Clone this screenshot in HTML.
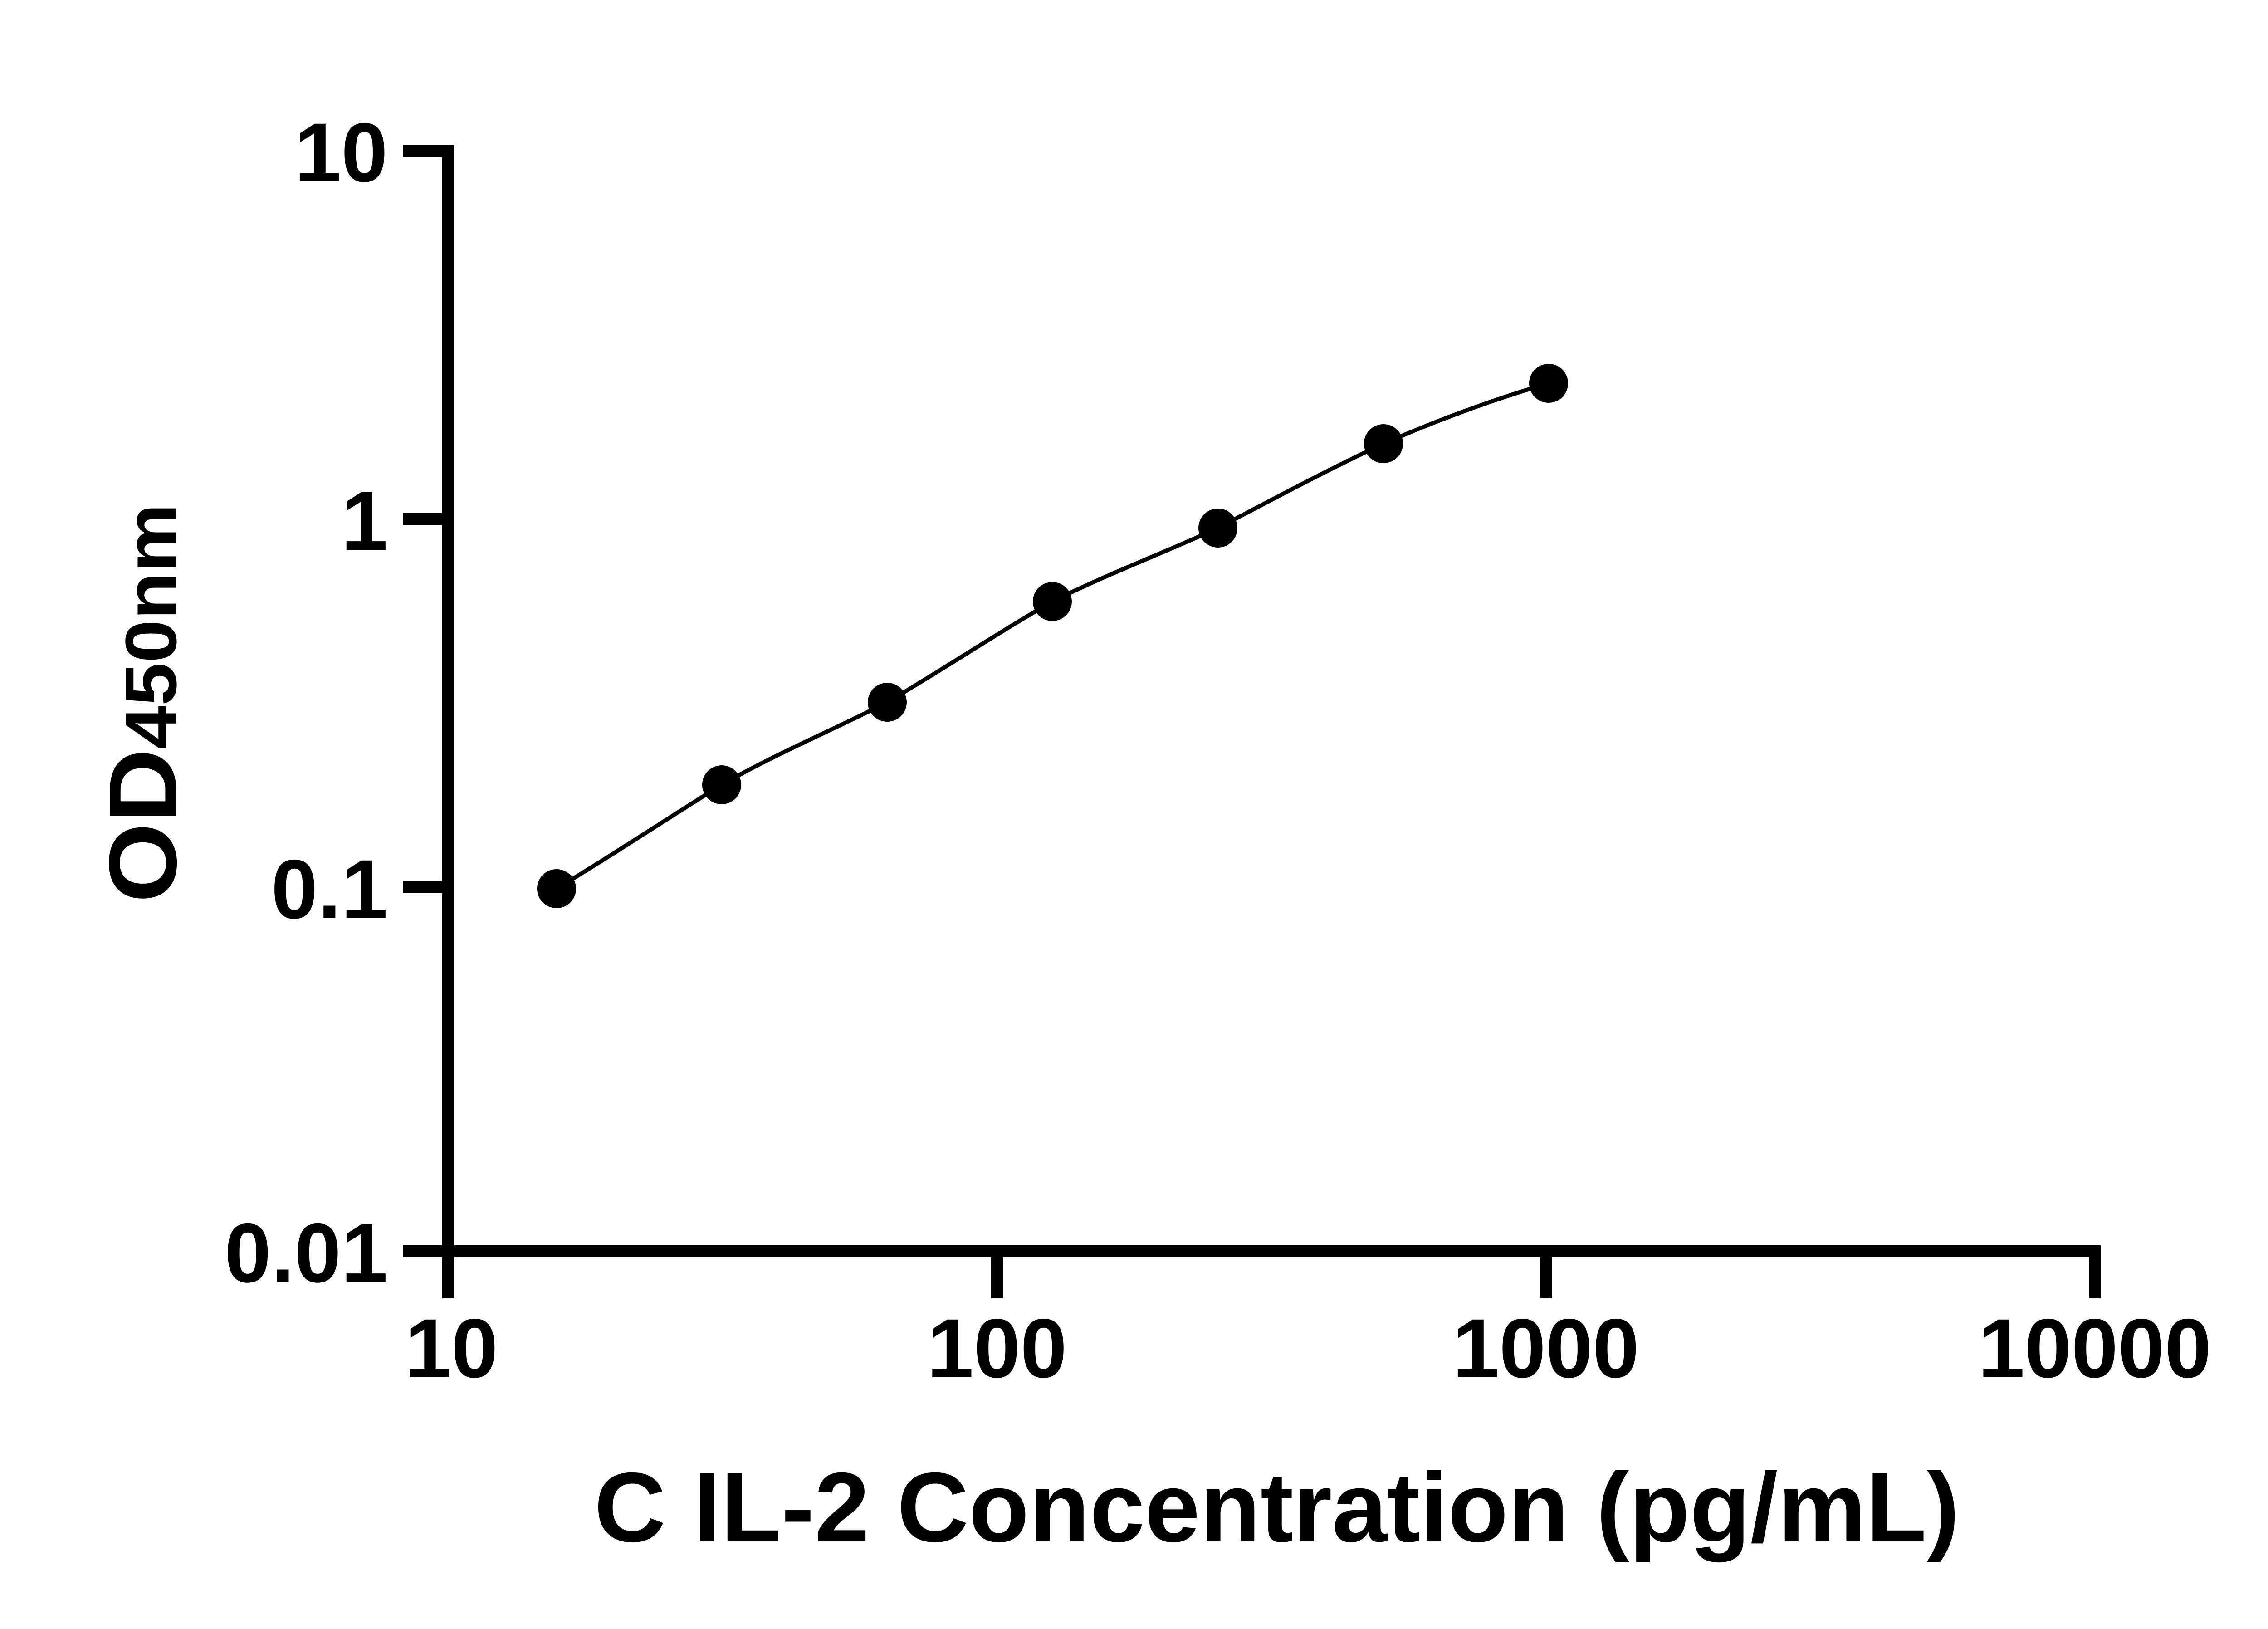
<!DOCTYPE html>
<html><head><meta charset="utf-8"><style>
html,body{margin:0;padding:0;background:#fff;}
svg{display:block;}
text{font-family:"Liberation Sans",Arial,sans-serif;font-weight:bold;fill:#000;}
</style></head><body>
<svg width="5138" height="3591" viewBox="0 0 5138 3591" xmlns="http://www.w3.org/2000/svg">
<g stroke="#000" stroke-width="26" fill="none" stroke-linecap="butt">
<line x1="988" y1="319" x2="988" y2="2771"/>
<line x1="975" y1="2758" x2="4631" y2="2758"/>
<line x1="888" y1="332" x2="988" y2="332"/>
<line x1="888" y1="1144" x2="988" y2="1144"/>
<line x1="888" y1="1956" x2="988" y2="1956"/>
<line x1="888" y1="2758" x2="988" y2="2758"/>
<line x1="988" y1="2758" x2="988" y2="2862"/>
<line x1="2198" y1="2758" x2="2198" y2="2862"/>
<line x1="3408" y1="2758" x2="3408" y2="2862"/>
<line x1="4618" y1="2745" x2="4618" y2="2862"/>
</g>
<path fill="none" stroke="#000" stroke-width="9" d="M1227,1959 C1350,1885 1470,1805 1591,1730 C1713,1660 1835,1610 1956,1548 C2080,1475 2200,1395 2320,1326 C2442,1265 2563,1220 2685,1164 C2807,1100 2928,1035 3050,978 C3172,925 3293,880 3414,845"/>
<g fill="#000">
<circle cx="1227" cy="1959" r="43"/>
<circle cx="1591" cy="1730" r="43"/>
<circle cx="1956" cy="1548" r="43"/>
<circle cx="2320" cy="1326" r="43"/>
<circle cx="2685" cy="1164" r="43"/>
<circle cx="3050" cy="978" r="43"/>
<circle cx="3414" cy="845" r="43"/>
</g>
<g font-size="185" text-anchor="end">
<text x="855" y="400">10</text>
<text x="855" y="1212">1</text>
<text x="855" y="2024">0.1</text>
<text x="855" y="2826">0.01</text>
</g>
<g font-size="185" text-anchor="middle">
<text x="995" y="3036">10</text>
<text x="2198" y="3036">100</text>
<text x="3408" y="3036">1000</text>
<text x="4618" y="3036">10000</text>
</g>
<text x="1310" y="3398" font-size="218" textLength="3010" lengthAdjust="spacingAndGlyphs">C IL-2 Concentration (pg/mL)</text>
<g transform="translate(388,1990) rotate(-90)">
<text x="0" y="0" font-size="212" textLength="880" lengthAdjust="spacingAndGlyphs">OD<tspan font-size="160">450nm</tspan></text>
</g>
</svg>
</body></html>
